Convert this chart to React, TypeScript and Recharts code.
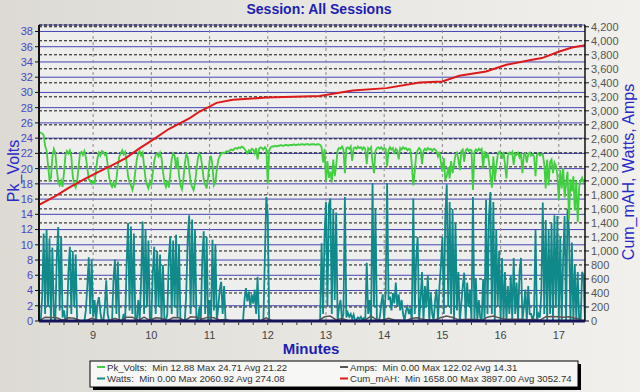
import { ComposedChart, Line, XAxis, YAxis, CartesianGrid, ReferenceLine } from 'recharts';

const FONT = '"Liberation Sans", Arial, sans-serif';

// sampling of the logger: one reading every 0.025 min from 8.075 min
const START_MIN = 8.075;
const STEP_MIN = 0.025;
const AMPS_STEP_MIN = 0.1;

const pkVolts = [
  24.8, 24.7, 24.6, 24.4, 23.0, 22.4, 20.5, 18.5, 18.8, 21.5,
  22.6, 22.1, 20.0, 18.2, 17.8, 18.4, 17.6, 19.5, 21.8, 22.3,
  22.0, 22.4, 21.6, 19.0, 17.9, 17.5, 18.3, 20.2, 22.0, 22.2,
  21.8, 22.3, 21.5, 20.1, 18.6, 18.4, 18.0, 18.3, 18.1, 19.8,
  21.4, 22.1, 21.7, 22.3, 22.2, 21.8, 22.0, 20.5, 18.9, 18.0,
  17.6, 18.2, 17.5, 18.6, 20.4, 21.6, 22.0, 22.4, 21.9, 22.2,
  20.8, 19.0, 18.2, 17.8, 17.2, 18.0, 19.6, 21.2, 22.0, 22.3,
  21.7, 22.1, 20.4, 18.7, 17.9, 17.4, 18.3, 17.8, 19.5, 21.0,
  21.8, 22.0, 21.6, 22.1, 21.4, 19.6, 18.2, 17.6, 18.4, 17.5,
  19.2, 21.3, 22.0, 21.7, 20.0, 21.5, 19.1, 17.8, 17.3, 18.5,
  20.6, 21.9, 21.5, 19.8, 18.2, 17.6, 17.2, 18.0, 19.8, 21.4,
  22.0, 21.6, 20.2, 18.6, 17.9, 17.4, 18.8, 21.0, 21.7, 20.4,
  17.8, 18.2, 19.9, 21.2, 21.6, 22.0, 22.1, 22.0, 22.2, 22.3,
  22.2, 22.4, 22.5, 22.4, 22.6, 22.7, 22.6, 22.8, 22.7, 22.9,
  22.8, 22.6, 22.3, 22.0, 22.4, 22.2, 22.6, 22.5, 22.0, 22.7,
  21.2, 22.6, 22.8, 22.7, 22.5, 22.8, 22.6, 18.0, 22.4, 22.8,
  22.9, 22.9, 23.0, 22.9, 23.0, 23.0, 23.1, 23.0, 23.0, 23.1,
  23.1, 23.0, 23.1, 23.1, 23.1, 23.2, 23.1, 23.1, 23.2, 23.1,
  23.2, 23.2, 23.1, 23.2, 23.2, 23.2, 23.1, 23.2, 23.2, 23.2,
  23.1, 23.2, 23.2, 23.1, 22.8, 20.8, 22.6, 18.4, 21.0, 18.8,
  19.6, 18.2, 21.2, 19.0, 20.4, 22.4, 22.7, 22.6, 22.9, 22.5,
  19.4, 22.7, 22.8, 22.6, 22.9, 21.0, 22.7, 22.8, 22.6, 22.9,
  22.7, 22.8, 22.5, 22.8, 22.6, 20.6, 22.7, 22.5, 22.8, 20.8,
  19.4, 22.3, 22.7, 22.8, 22.6, 22.8, 22.5, 22.7, 22.6, 20.3,
  22.4, 22.8, 22.5, 22.7, 21.9, 22.6, 22.4, 21.2, 22.7, 22.5,
  22.8, 22.6, 22.7, 22.4, 22.6, 22.5, 20.5, 17.8, 19.6, 21.8,
  22.4, 22.7, 22.5, 20.6, 22.3, 22.6, 22.4, 22.7, 22.5, 22.6,
  22.3, 22.6, 22.5, 22.3, 21.6, 22.2, 20.8, 19.6, 21.4, 18.5,
  19.0, 20.2, 18.7, 21.0, 19.4, 20.6, 21.8, 22.1, 21.2, 19.8,
  22.3, 22.5, 20.9, 22.4, 22.6, 22.3, 22.5, 22.4, 17.2, 22.2,
  22.5, 22.3, 22.6, 22.4, 22.6, 20.0, 22.3, 21.4, 22.1, 20.9,
  19.0, 17.5, 21.6, 18.5, 20.2, 21.8, 22.2, 22.0, 21.3, 22.2,
  20.6, 18.7, 21.7, 22.1, 21.9, 22.2, 20.5, 22.0, 21.8, 22.1,
  21.5, 22.0, 19.4, 21.8, 22.0, 20.8, 21.9, 22.1, 21.7, 21.9,
  21.6, 19.0, 21.8, 22.0, 21.7, 21.9, 21.8, 20.6, 17.4, 21.2,
  17.8, 20.9, 21.2, 19.4, 20.8, 20.4, 19.1, 15.9, 19.8, 17.4,
  20.1, 16.2, 18.0, 19.6, 13.3, 18.6, 17.0, 19.0, 14.5, 18.4,
  13.0, 17.6, 18.4, 18.8, 18.2, 18.6,
];

const watts = [
  0, 0, 350, 1250, 100, 1300, 200, 1180, 0, 1050,
  80, 0, 900, 1340, 150, 1200, 50, 150, 0, 0,
  700, 1060, 100, 1000, 200, 950, 0, 0, 0, 0,
  0, 0, 150, 500, 910, 100, 880, 50, 300, 0,
  250, 340, 120, 0, 0, 200, 580, 100, 0, 0,
  0, 600, 880, 100, 850, 0, 0, 0, 100, 0,
  800, 1400, 150, 1350, 100, 1250, 0, 0, 300, 0,
  600, 1420, 100, 1300, 200, 1150, 0, 0, 700, 1060,
  100, 1000, 200, 950, 0, 800, 0, 0, 100, 900,
  1200, 100, 1150, 200, 1230, 50, 1100, 0, 0, 0,
  0, 400, 1200, 1510, 100, 1450, 200, 1300, 0, 0,
  200, 0, 900, 1280, 100, 1200, 0, 300, 0, 1160,
  150, 1100, 0, 200, 450, 560, 100, 500, 0, 0,
  0, 0, 0, 0, 0, 0, 0, 0, 0, 0,
  0, 300, 470, 280, 420, 200, 380, 250, 450, 100,
  630, 0, 0, 0, 0, 900, 1770, 1500, 0, 0,
  0, 0, 0, 0, 0, 0, 0, 0, 0, 0,
  0, 0, 0, 0, 0, 0, 0, 0, 0, 0,
  0, 0, 0, 0, 0, 0, 0, 0, 0, 0,
  0, 0, 0, 0, 1110, 100, 1200, 1700, 200, 1650,
  1750, 100, 1600, 300, 1550, 0, 200, 300, 0, 100,
  1770, 50, 120, 60, 100, 30, 90, 0, 20, 50,
  30, 60, 20, 40, 0, 830, 100, 300, 0, 1970,
  200, 1600, 0, 0, 50, 250, 380, 0, 400, 1970,
  300, 350, 150, 400, 250, 550, 200, 380, 150, 300,
  100, 0, 150, 200, 100, 180, 0, 1750, 100, 900,
  1200, 0, 300, 700, 0, 500, 200, 650, 0, 400,
  100, 0, 300, 450, 0, 500, 800, 1200, 100, 1500,
  1950, 200, 1700, 100, 1600, 0, 1400, 150, 700, 0,
  250, 500, 690, 0, 550, 200, 450, 0, 1770, 0,
  600, 0, 300, 50, 0, 600, 0, 1730, 100, 1500,
  1840, 100, 1700, 0, 1300, 200, 1000, 0, 900, 0,
  700, 0, 500, 100, 650, 0, 900, 100, 550, 0,
  700, 900, 0, 200, 450, 0, 500, 100, 100, 0,
  100, 1300, 0, 100, 50, 400, 1690, 100, 1440, 0,
  1300, 100, 1400, 0, 1510, 200, 1500, 0, 1200, 0,
  900, 1500, 0, 1600, 1300, 0, 1120, 0, 800, 0,
  700, 0, 0, 700, 650, 0,
];

// amps logged every 0.1 min
const amps = [
  5, 55, 50, 45, 10, 45, 40, 5, 5, 40,
  15, 10, 5, 40, 5, 55, 55, 5, 55, 10,
  45, 40, 5, 50, 45, 5, 60, 55, 30, 55,
  45, 15, 20, 0, 0, 5, 15, 10, 5, 45,
  0, 0, 0, 0, 0, 0, 0, 0, 5, 60,
  70, 15, 40, 5, 3, 2, 15, 70, 15, 15,
  40, 15, 12, 5, 40, 45, 20, 15, 15, 50,
  70, 50, 20, 20, 25, 20, 10, 55, 70, 45,
  25, 25, 25, 25, 15, 25, 10, 60, 65, 60,
  55, 60, 40, 30,
];

const cumMinutes = [
  8.07, 8.36, 8.58, 8.82, 9.05, 9.34, 9.56, 9.79, 10.03, 10.3, 10.66, 10.83, 11.0, 11.12, 11.4,
  11.98, 12.89, 13.46, 14.04, 14.61, 15.0, 15.29, 15.75, 16.1, 16.54, 16.71, 17.01, 17.23, 17.45,
];
const cumMah = [
  1657, 1786, 1900, 2010, 2110, 2229, 2324, 2460, 2590, 2740, 2895, 2990, 3061, 3114, 3157,
  3190, 3210, 3290, 3324, 3404, 3419, 3500, 3561, 3657, 3729, 3753, 3847, 3904, 3935,
];

const voltTicks = [0, 2, 4, 6, 8, 10, 12, 14, 16, 18, 20, 22, 24, 26, 28, 30, 32, 34, 36, 38];
const rightTicks = [
  0, 200, 400, 600, 800, 1000, 1200, 1400, 1600, 1800, 2000, 2200, 2400, 2600, 2800, 3000,
  3200, 3400, 3600, 3800, 4000, 4200,
];
const minuteLabels = [9, 10, 11, 12, 13, 14, 15, 16, 17];
const minuteTicks = Array.from({ length: 37 }, (_, k) => 8.25 + k * 0.25);

const legendItems = [
  { name: 'Pk_Volts', color: '#3fcf3f', text: 'Min 12.88 Max 24.71 Avg 21.22' },
  { name: 'Watts', color: '#10898a', text: 'Min 0.00 Max 2060.92 Avg 274.08' },
  { name: 'Amps', color: '#5b5555', text: 'Min 0.00 Max 122.02 Avg 14.31' },
  { name: 'Cum_mAH', color: '#dd1a1a', text: 'Min 1658.00 Max 3897.00 Avg 3052.74' },
];

const powerRows = pkVolts.map((v, i) => ({
  m: +(START_MIN + i * STEP_MIN).toFixed(3),
  v,
  w: watts[i],
}));
const ampRows = amps.map((a, k) => ({ m: +(START_MIN + k * AMPS_STEP_MIN).toFixed(3), a }));
const cumRows = cumMinutes.map((m, k) => ({ m, c: cumMah[k] }));

const TITLE_BLUE = '#1d1db4';

export default function App() {
  return (
    <div
      style={{
        position: 'absolute',
        left: 0,
        top: 0,
        width: 640,
        height: 392,
        background: 'linear-gradient(90deg, #dcdad3 0%, #e8e7e2 55%, #f1f0ed 100%)',
        fontFamily: FONT,
      }}
    >
      <ComposedChart
        width={640}
        height={392}
        margin={{ top: 25, right: 0, bottom: 0, left: 0 }}
        style={{ fontFamily: FONT }}
      >
        <CartesianGrid yAxisId="v" vertical={false} stroke="#4545b4" fill="#eeeeec" />
        <CartesianGrid yAxisId="r" vertical={false} stroke="#111" strokeDasharray="3 2" />
        {minuteLabels.map((m) => (
          <ReferenceLine key={m} x={m} yAxisId="v" stroke="#8a8a8a" strokeDasharray="3 3" />
        ))}
        <XAxis
          dataKey="m"
          type="number"
          domain={[8.07, 17.45]}
          allowDataOverflow
          ticks={minuteTicks}
          interval={0}
          tickFormatter={(t: number) => (Math.abs(t - Math.round(t)) < 0.001 ? String(Math.round(t)) : '')}
          height={71}
          tickSize={4}
          tickMargin={6}
          tick={{ fontSize: 11, fill: '#444' }}
          tickLine={{ stroke: '#333' }}
          axisLine={{ stroke: '#14145a', strokeWidth: 3 }}
        />
        <YAxis
          yAxisId="v"
          type="number"
          domain={[0, 38.85]}
          ticks={voltTicks}
          interval={0}
          width={39}
          tickSize={4}
          tickMargin={2}
          tick={{ fontSize: 11, fill: '#4848c8' }}
          tickLine={{ stroke: '#111' }}
          axisLine={{ stroke: '#111', strokeWidth: 2 }}
        />
        <YAxis
          yAxisId="r"
          orientation="right"
          type="number"
          domain={[0, 4225]}
          ticks={rightTicks}
          interval={0}
          width={55}
          tickSize={4}
          tickMargin={2}
          tickFormatter={(t: number) => t.toLocaleString('en-US')}
          tick={{ fontSize: 11, fill: '#555' }}
          tickLine={{ stroke: '#111' }}
          axisLine={{ stroke: '#111', strokeWidth: 1.5 }}
        />
        <Line
          yAxisId="r"
          data={powerRows}
          dataKey="w"
          stroke="#10898a"
          strokeWidth={1.8}
          dot={false}
          isAnimationActive={false}
        />
        <Line
          yAxisId="r"
          data={ampRows}
          dataKey="a"
          stroke="#5b5555"
          strokeWidth={1.5}
          dot={false}
          isAnimationActive={false}
        />
        <Line
          yAxisId="v"
          data={powerRows}
          dataKey="v"
          stroke="#3fcf3f"
          strokeWidth={1.8}
          dot={false}
          isAnimationActive={false}
        />
        <Line
          yAxisId="r"
          data={cumRows}
          dataKey="c"
          stroke="#dd1a1a"
          strokeWidth={2}
          dot={false}
          isAnimationActive={false}
        />
      </ComposedChart>

      <svg
        width={640}
        height={392}
        style={{ position: 'absolute', left: 0, top: 0, pointerEvents: 'none', fontFamily: FONT }}
      >
        <text x={319} y={14} textAnchor="middle" fontSize={14} fontWeight="bold" fill={TITLE_BLUE}>
          Session: All Sessions
        </text>
        <text x={311} y={354} textAnchor="middle" fontSize={15} fontWeight="bold" fill={TITLE_BLUE}>
          Minutes
        </text>
        <text transform="translate(19,171) rotate(-90)" textAnchor="middle" fontSize={16} fill="#2a2ac8">
          Pk_Volts
        </text>
        <text transform="translate(634,172) rotate(-90)" textAnchor="middle" fontSize={16} fill="#2a2ac8">
          Cum_mAH, Watts, Amps
        </text>

        <rect x={93} y={364} width={488} height={26} fill="#000" />
        <rect x={90} y={361} width={488} height={26} fill="#f7f7f5" stroke="#000" strokeWidth={1} />
        {legendItems.map((item, k) => {
          const lx = k < 2 ? 97 : 340;
          const cy = k % 2 === 0 ? 367 : 378.5;
          return (
            <g key={item.name}>
              <line x1={lx} x2={lx + 8} y1={cy} y2={cy} stroke={item.color} strokeWidth={2} />
              <text x={lx + 10} y={cy + 3.5} fontSize={9.6} fill="#333" style={{ whiteSpace: 'pre' }}>
                {`${item.name}:  ${item.text}`}
              </text>
            </g>
          );
        })}
      </svg>
    </div>
  );
}
